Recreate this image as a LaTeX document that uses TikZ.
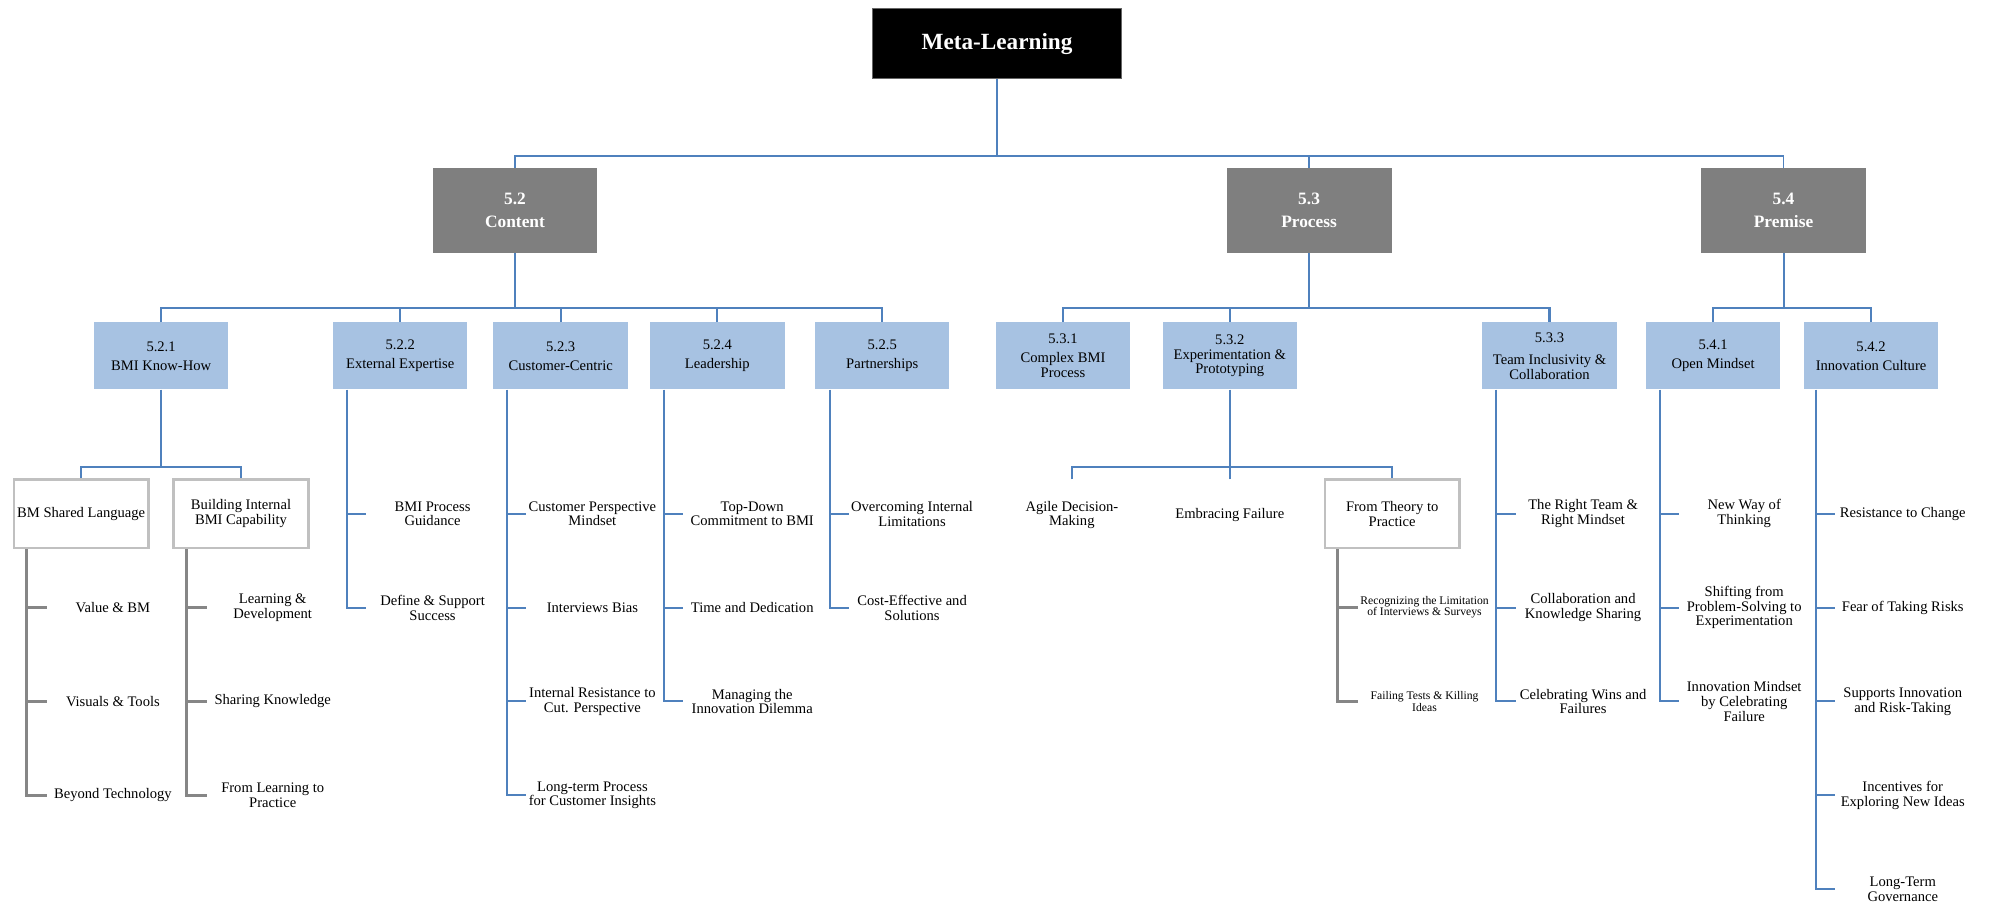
\documentclass[tikz,border=0pt]{standalone}
\usepackage{fontspec}
\setmainfont{Liberation Serif}
\definecolor{boxblue}{HTML}{A7C2E2}
\definecolor{linkblue}{HTML}{4F81BD}
\definecolor{linkgray}{HTML}{868686}
\definecolor{framegray}{HTML}{C0C0C0}
\definecolor{headgray}{HTML}{7F7F7F}
\begin{document}
\begin{tikzpicture}[x=1pt,y=-1pt,
  rootbox/.style={fill=black,draw=black!60,line width=0.8pt,minimum width=196pt,minimum height=55pt,inner sep=0pt,text=white,font=\fontsize{18.3}{20}\selectfont\bfseries},
  headbox/.style={fill=headgray,minimum width=130pt,minimum height=67pt,inner sep=0pt,text=white,align=center,font=\fontsize{13.7}{18.4}\selectfont\bfseries},
  topicbox/.style={fill=boxblue,minimum width=106pt,minimum height=53pt,inner sep=0pt,align=center,font=\fontsize{11.5}{11.6}\selectfont},
  subbox/.style={draw=framegray,line width=2.1pt,fill=white,minimum width=106pt,minimum height=54pt,inner sep=0pt,align=center,font=\fontsize{11.5}{11.6}\selectfont},
  leaf/.style={inner sep=0pt,align=center,font=\fontsize{11.5}{11.6}\selectfont},
  smallleaf/.style={inner sep=0pt,align=center,font=\fontsize{9.2}{8.8}\selectfont},
  link/.style={draw=linkblue,line width=1.6pt},
  toplink/.style={draw=linkblue,line width=1.3pt},
  glink/.style={draw=linkgray,line width=2.2pt},
]
\useasboundingbox (0,0) rectangle (1568,714);

% ---- top levels ----
\node[rootbox] (root) at (786,34.5) {Meta-Learning};
\node[headbox] (content) at (406,166) {5.2\\Content};
\node[headbox] (process) at (1032,166) {5.3\\Process};
\node[headbox] (premise) at (1406,166) {5.4\\Premise};
\coordinate (bus0) at (786,123);
\draw[toplink] (root.south) -- (bus0);
\draw[toplink] (content.north) -- (content.north |- bus0) -- (premise.north |- bus0) -- (premise.north);
\draw[toplink] (process.north) -- (process.north |- bus0);

% ---- topics ----
\node[topicbox] (k1) at (127,280.5) {5.2.1\\[3.4pt]BMI Know-How};
\node[topicbox] (k2) at (315.5,280.5) {5.2.2\\[3.4pt]External Expertise};
\node[topicbox] (k3) at (442,280.5) {5.2.3\\[3.4pt]Customer-Centric};
\node[topicbox] (k4) at (565.5,280.5) {5.2.4\\[3.4pt]Leadership};
\node[topicbox] (k5) at (695.5,280.5) {5.2.5\\[3.4pt]Partnerships};
\node[topicbox] (k6) at (838,280.5) {5.3.1\\[3.4pt]Complex BMI\\Process};
\node[topicbox] (k7) at (969.5,280.5) {5.3.2\\Experimentation \&\\Prototyping};
\node[topicbox] (k8) at (1221.5,280.5) {5.3.3\\[6pt]Team Inclusivity \&\\Collaboration};
\node[topicbox] (k9) at (1350.5,280.5) {5.4.1\\[3.4pt]Open Mindset};
\node[topicbox] (k10) at (1475,280.5) {5.4.2\\[3.4pt]Innovation Culture};

\coordinate (busC) at (406,243);
\draw[link] (content.south) -- (busC);
\draw[link] (k1.north) -- (k1.north |- busC) -- (k5.north |- busC) -- (k5.north);
\foreach \k in {k2,k3,k4} \draw[link] (\k.north) -- (\k.north |- busC);
\coordinate (busP) at (1032,243);
\draw[link] (process.south) -- (busP);
\draw[link] (k6.north) -- (k6.north |- busP) -- (k8.north |- busP) -- (k8.north);
\draw[link] (k7.north) -- (k7.north |- busP);
\coordinate (busR) at (1406,243);
\draw[link] (premise.south) -- (busR);
\draw[link] (k9.north) -- (k9.north |- busR) -- (k10.north |- busR) -- (k10.north);

% ---- 5.2.1 sub boxes ----
\node[subbox] (bsl) at (64,405) {BM Shared Language};
\node[subbox] (bic) at (190,405) {Building Internal\\BMI Capability};
\coordinate (bus1) at (127,368);
\draw[link] (k1.south) -- (bus1);
\draw[link] (bsl.north) -- (bsl.north |- bus1) -- (bic.north |- bus1) -- (bic.north);

% ---- 5.3.2 sub items ----
\node[leaf] (agile) at (845,406) {Agile Decision-\\Making};
\node[leaf] (embrace) at (969.5,406) {Embracing Failure};
\node[subbox] (theory) at (1097.5,405) {From Theory to\\Practice};
\coordinate (bus7) at (969.5,368);
\coordinate (agiletop) at (845,378);
\coordinate (embracetop) at (969.5,378);
\draw[link] (k7.south) -- (bus7);
\draw[link] (agiletop) -- (agiletop |- bus7) -- (theory.north |- bus7) -- (theory.north);
\draw[link] (embracetop) -- (embracetop |- bus7);

% ---- leaves ----
% BM Shared Language
\node[leaf] (v1) at (89,479) {Value \& BM};
\node[leaf] (v2) at (89,553) {Visuals \& Tools};
\node[leaf] (v3) at (89,627) {Beyond Technology};
% Building Internal BMI Capability
\node[leaf] (b1) at (215,479) {Learning \&\\Development};
\node[leaf] (b2) at (215,553) {Sharing Knowledge};
\node[leaf] (b3) at (215,627) {From Learning to\\Practice};
% 5.2.2
\node[leaf] (e1) at (341,405) {BMI Process\\Guidance};
\node[leaf] (e2) at (341,479) {Define \& Support\\Success};
% 5.2.3
\node[leaf] (c1) at (467,405) {Customer Perspective\\Mindset};
\node[leaf] (c2) at (467,479) {Interviews Bias};
\node[leaf] (c3) at (467,553) {Internal Resistance to\\Cut. Perspective};
\node[leaf] (c4) at (467,627) {Long-term Process\\for Customer Insights};
% 5.2.4
\node[leaf] (l1) at (593,405) {Top-Down\\Commitment to BMI};
\node[leaf] (l2) at (593,479) {Time and Dedication};
\node[leaf] (l3) at (593,553) {Managing the\\Innovation Dilemma};
% 5.2.5
\node[leaf] (p1) at (719,405) {Overcoming Internal\\Limitations};
\node[leaf] (p2) at (719,479) {Cost-Effective and\\Solutions};
% From Theory to Practice
\node[smallleaf] (t1) at (1123,479) {Recognizing the Limitation\\of Interviews \& Surveys};
\node[smallleaf] (t2) at (1123,553) {Failing Tests \& Killing\\Ideas};
% 5.3.3
\node[leaf] (m1) at (1248,405) {The Right Team \&\\Right Mindset};
\node[leaf] (m2) at (1248,479) {Collaboration and\\Knowledge Sharing};
\node[leaf] (m3) at (1248,553) {Celebrating Wins and\\Failures};
% 5.4.1
\node[leaf] (o1) at (1375,405) {New Way of\\Thinking};
\node[leaf] (o2) at (1375,479) {Shifting from\\Problem-Solving to\\Experimentation};
\node[leaf] (o3) at (1375,553) {Innovation Mindset\\by Celebrating\\Failure};
% 5.4.2
\node[leaf] (i1) at (1500,405) {Resistance to Change};
\node[leaf] (i2) at (1500,479) {Fear of Taking Risks};
\node[leaf] (i3) at (1500,553) {Supports Innovation\\and Risk-Taking};
\node[leaf] (i4) at (1500,627) {Incentives for\\Exploring New Ideas};
\node[leaf] (i5) at (1500,701) {Long-Term\\Governance};

% ---- trunks and ticks ----
\coordinate (bslT) at ([xshift=11pt]bsl.south west);
\draw[glink] (bslT) |- ([xshift=16pt]bslT |- v3);
\foreach \lf in {v1,v2} \draw[glink] (bslT |- \lf) -- ++(16,0);

\coordinate (bicT) at ([xshift=11pt]bic.south west);
\draw[glink] (bicT) |- ([xshift=16pt]bicT |- b3);
\foreach \lf in {b1,b2} \draw[glink] (bicT |- \lf) -- ++(16,0);

\coordinate (thT) at ([xshift=11pt]theory.south west);
\draw[glink] (thT) |- ([xshift=16pt]thT |- t2);
\draw[glink] (thT |- t1) -- ++(16,0);

\coordinate (k2T) at ([xshift=11pt]k2.south west);
\draw[link] (k2T) |- ([xshift=15pt]k2T |- e2);
\draw[link] (k2T |- e1) -- ++(15,0);

\coordinate (k3T) at ([xshift=11pt]k3.south west);
\draw[link] (k3T) |- ([xshift=15pt]k3T |- c4);
\foreach \lf in {c1,c2,c3} \draw[link] (k3T |- \lf) -- ++(15,0);

\coordinate (k4T) at ([xshift=11pt]k4.south west);
\draw[link] (k4T) |- ([xshift=15pt]k4T |- l3);
\foreach \lf in {l1,l2} \draw[link] (k4T |- \lf) -- ++(15,0);

\coordinate (k5T) at ([xshift=12pt]k5.south west);
\draw[link] (k5T) |- ([xshift=15pt]k5T |- p2);
\draw[link] (k5T |- p1) -- ++(15,0);

\coordinate (k8T) at ([xshift=11pt]k8.south west);
\draw[link] (k8T) |- ([xshift=16pt]k8T |- m3);
\foreach \lf in {m1,m2} \draw[link] (k8T |- \lf) -- ++(16,0);

\coordinate (k9T) at ([xshift=11pt]k9.south west);
\draw[link] (k9T) |- ([xshift=15pt]k9T |- o3);
\foreach \lf in {o1,o2} \draw[link] (k9T |- \lf) -- ++(15,0);

\coordinate (k10T) at ([xshift=10pt]k10.south west);
\draw[link] (k10T) |- ([xshift=15pt]k10T |- i5);
\foreach \lf in {i1,i2,i3,i4} \draw[link] (k10T |- \lf) -- ++(15,0);
\end{tikzpicture}
\end{document}
